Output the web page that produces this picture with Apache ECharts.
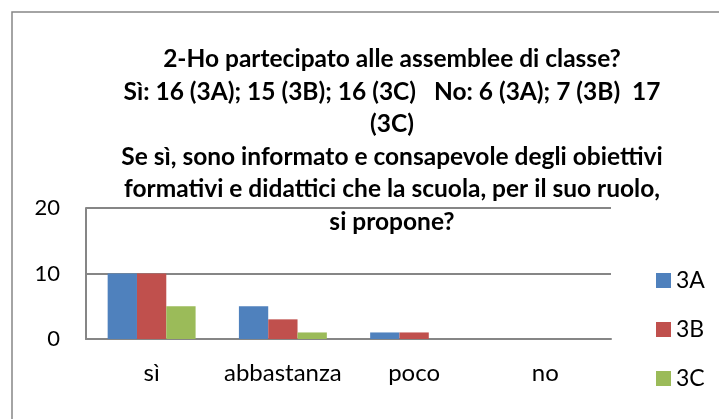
<!DOCTYPE html>
<html>
<head>
	<meta charset="utf-8">
	<title>Assemblee di classe</title>
	<script src="https://cdn.jsdelivr.net/npm/echarts@6/dist/echarts.min.js"></script>
</head>
<body style="margin:0;background:#fff">
	<div id="chart" style="width:719px;height:419px;"></div>
	<script type="text/javascript">
	var categories = ['sì', 'abbastanza', 'poco', 'no'];
	var valori3A = [10, 5, 1, 0];
	var valori3B = [10, 3, 1, 0];
	var valori3C = [5, 1, 0, 0];
	var yTicks = [0, 10, 20];

	var titolo = '2-Ho partecipato alle assemblee di classe?\n' +
		'Sì: 16 (3A); 15 (3B); 16 (3C)   No: 6 (3A); 7 (3B)  17\n' +
		'(3C)\n' +
		'Se sì, sono informato e consapevole degli obiettivi\n' +
		'formativi e didattici che la scuola, per il suo ruolo,\n' +
		'si propone?';

	var font = 'Lato, "Open Sans", sans-serif';
	var chart = echarts.init(document.getElementById('chart'));

	function serie(nome, dati, colore) {
		return {
			name: nome,
			type: 'bar',
			data: dati,
			barGap: '0%',
			barCategoryGap: '33%',
			itemStyle: { color: colore },
			z: 2
		};
	}

	chart.setOption({
		animation: false,
		textStyle: { fontFamily: font },
		title: {
			text: titolo,
			left: 387,
			textAlign: 'center',
			top: 38,
			z: 10,
			textStyle: {
				fontFamily: font,
				fontWeight: 'bold',
				fontSize: 24.5,
				lineHeight: 32.5,
				color: '#000'
			}
		},
		graphic: [{
			type: 'rect',
			shape: { x: 12, y: 12, width: 720, height: 420 },
			style: { fill: null, stroke: '#868686', lineWidth: 1.5 },
			silent: true
		}],
		grid: { left: 86, right: 108, top: 208, bottom: 80 },
		legend: {
			orient: 'vertical',
			left: 651,
			top: 264,
			itemWidth: 15,
			itemHeight: 15,
			itemGap: 26,
			icon: 'rect',
			textStyle: { fontFamily: font, fontSize: 23, color: '#000' },
			data: ['3A', '3B', '3C']
		},
		xAxis: {
			type: 'category',
			data: categories,
			axisLine: { lineStyle: { color: '#868686', width: 2 } },
			axisTick: { show: false },
			axisLabel: { interval: 0, fontFamily: font, fontSize: 24, color: '#000', margin: 22 }
		},
		yAxis: {
			type: 'value',
			min: yTicks[0],
			max: yTicks[yTicks.length - 1],
			interval: 10,
			axisLine: { show: true, lineStyle: { color: '#868686', width: 2 } },
			axisTick: { show: false },
			splitLine: { lineStyle: { color: '#868686', width: 2 } },
			axisLabel: { fontFamily: font, fontSize: 22, color: '#000', margin: 26 }
		},
		series: [
			serie('3A', valori3A, '#4F81BD'),
			serie('3B', valori3B, '#C0504D'),
			serie('3C', valori3C, '#9BBB59')
		]
	});
	</script>
</body>
</html>
